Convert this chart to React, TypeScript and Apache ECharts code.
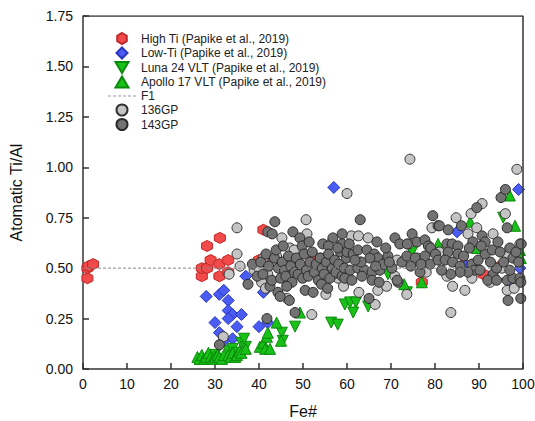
import React, { useEffect, useRef } from "react";
import * as echarts from "echarts";

const xTicks = [0, 10, 20, 30, 40, 50, 60, 70, 80, 90, 100];
const yTicks = [0, 0.25, 0.5, 0.75, 1.0, 1.25, 1.5, 1.75];

const highTi: number[][] = [
  [1, 0.45], [1, 0.5], [1.3, 0.51], [2.3, 0.52],
  [27, 0.46], [27, 0.5], [28.2, 0.5], [28.2, 0.61], [29, 0.54], [31.1, 0.65],
  [31, 0.52], [31, 0.46], [33, 0.54], [33, 0.48], [40, 0.54], [41, 0.54],
  [41, 0.69], [52, 0.56], [77, 0.43], [86.8, 0.52], [91, 0.47], [94.8, 0.51],
];

const lowTi: number[][] = [
  [28, 0.36], [31, 0.37], [32, 0.39], [33, 0.34], [33, 0.29], [34, 0.27],
  [33, 0.25], [36, 0.27], [30, 0.23], [35, 0.21], [31, 0.18], [34, 0.15],
  [32, 0.14], [37, 0.46], [40, 0.21], [41, 0.38], [42, 0.23], [46.6, 0.43],
  [57, 0.9], [85, 0.68], [87, 0.51], [98, 0.42], [99.3, 0.5], [99, 0.89],
];

const luna24: number[][] = [
  [30, 0.07], [33, 0.09], [34, 0.1], [35, 0.08], [36, 0.13], [37, 0.11],
  [36.6, 0.15], [45.2, 0.18], [45.4, 0.14], [48.2, 0.21], [56.4, 0.23],
  [57.9, 0.22], [59.5, 0.32], [60.7, 0.33], [62, 0.33], [61.4, 0.28],
  [64.8, 0.31], [69.3, 0.47], [73.6, 0.38], [74.8, 0.58], [95.5, 0.75],
];

const apollo17: number[][] = [
  [26, 0.06], [26.5, 0.05], [27, 0.07], [27.5, 0.05], [28, 0.06], [28.5, 0.08],
  [29, 0.06], [29.5, 0.05], [30, 0.06], [30.6, 0.07], [31, 0.06], [31.6, 0.05],
  [32, 0.07], [33, 0.07], [33.5, 0.06], [34, 0.08], [34.6, 0.06], [35, 0.07],
  [35.6, 0.09], [36, 0.08], [37, 0.1], [40.2, 0.11], [41, 0.13], [41.4, 0.1],
  [41.8, 0.16], [42.5, 0.1], [42, 0.18], [44, 0.23], [45, 0.14], [49.3, 0.28],
  [73, 0.42], [77, 0.43], [80.7, 0.62], [88, 0.73], [89.5, 0.6], [97, 0.86],
  [98.2, 0.71], [99.3, 0.59], [99.5, 0.55],
];

const f1Line: number[][] = [[0, 0.5], [100, 0.5]];

const gp136: number[][] = [
  [31.9, 0.16], [35, 0.7], [35, 0.57], [35.7, 0.51], [33.2, 0.47], [38.9, 0.49],
  [40.6, 0.43], [41.5, 0.4], [40, 0.5], [42, 0.47], [45.2, 0.65], [47, 0.6],
  [48, 0.59], [50.7, 0.74], [50.9, 0.67], [52, 0.27], [55.2, 0.37], [56.6, 0.63],
  [58, 0.45], [41, 0.55], [43, 0.52], [44, 0.56], [47, 0.53], [52, 0.5],
  [54, 0.55], [57, 0.47], [46.4, 0.35], [59.2, 0.41],
  [60, 0.87], [61, 0.66], [62.6, 0.66], [64.8, 0.65], [62.7, 0.38], [66.4, 0.32],
  [67, 0.39], [69, 0.41], [70.9, 0.46], [71.4, 0.54], [73.6, 0.37], [74, 0.62],
  [74.3, 1.04], [79.3, 0.7], [82.7, 0.46], [83.6, 0.28], [84, 0.41], [84.8, 0.75],
  [86.8, 0.39], [87.5, 0.67], [88.2, 0.77], [88.4, 0.45], [89.5, 0.7], [90.7, 0.82],
  [92.5, 0.43], [93.2, 0.67], [95.2, 0.5], [96, 0.77], [96.4, 0.56], [96.4, 0.39],
  [98.6, 0.99], [99.3, 0.62], [63, 0.53], [68, 0.52], [76, 0.55], [78, 0.48],
  [81, 0.58], [65, 0.48], [98, 0.4],
];

const gp143: number[][] = [
  [31, 0.12], [37.5, 0.42], [41.8, 0.25], [42.5, 0.41], [44.3, 0.38], [44.8, 0.36],
  [46.9, 0.34], [48.2, 0.28], [50.5, 0.39], [52.3, 0.38], [65, 0.35],
  [42, 0.68], [43.6, 0.73], [43, 0.67], [47.7, 0.68], [49.3, 0.65], [49.8, 0.61],
  [54.5, 0.62], [56.8, 0.65], [58.9, 0.67], [55.8, 0.61], [58.9, 0.62],
  [38.5, 0.52], [39.6, 0.46], [40.4, 0.53], [40.9, 0.47], [41.6, 0.57], [42.2, 0.51],
  [42.9, 0.44], [43.5, 0.55], [43.9, 0.59], [44.4, 0.5], [44.9, 0.45], [45.3, 0.53],
  [45.8, 0.49], [46.1, 0.46], [46.7, 0.56], [47.2, 0.51], [47.5, 0.43], [48.1, 0.48],
  [48.5, 0.55], [48.9, 0.47], [49.4, 0.52], [49.9, 0.45], [50.3, 0.57], [50.8, 0.49],
  [51.2, 0.46], [51.6, 0.53], [52.1, 0.58], [52.6, 0.48], [53.0, 0.52], [53.5, 0.44],
  [53.9, 0.55], [54.4, 0.5], [54.8, 0.47], [55.3, 0.53], [55.8, 0.57], [56.1, 0.45],
  [56.7, 0.5], [57.2, 0.54], [57.5, 0.48], [58.1, 0.52], [58.5, 0.58], [58.9, 0.46],
  [59.4, 0.5], [59.9, 0.55], [45.5, 0.61], [51.4, 0.63], [54.2, 0.42], [46.3, 0.41],
  [55.6, 0.4], [57.9, 0.6],
  [63, 0.74], [66.8, 0.63], [70.9, 0.65], [72, 0.62], [74.8, 0.67], [75.9, 0.63],
  [77.7, 0.64], [78.5, 0.61], [60, 0.58], [61.4, 0.57], [62.5, 0.59], [64.5, 0.59],
  [66.2, 0.57], [67, 0.55], [65.2, 0.55], [69.3, 0.56], [72.5, 0.53], [73.6, 0.56],
  [75.5, 0.55], [77.7, 0.56], [79, 0.6], [78.9, 0.52], [60.7, 0.49], [62.5, 0.5],
  [64, 0.49], [65.7, 0.48], [67.5, 0.49], [59.5, 0.45], [61.1, 0.44], [65.7, 0.44],
  [71.6, 0.43], [76.6, 0.48], [63.2, 0.53], [68.2, 0.52], [70.2, 0.5], [74.5, 0.51],
  [61.8, 0.54], [68.8, 0.6], [66.5, 0.51], [63.4, 0.46], [69.6, 0.53], [71.4, 0.44],
  [76.8, 0.52], [80.1, 0.57], [60.5, 0.62], [67.3, 0.43], [73.7, 0.62],
  [80.7, 0.71], [83, 0.69], [90.7, 0.66], [88.6, 0.63], [91.4, 0.63], [94.3, 0.63],
  [96.4, 0.7], [82.7, 0.62], [83.9, 0.62], [85.2, 0.61], [83, 0.58], [85.2, 0.57],
  [80.7, 0.54], [82.3, 0.54], [84, 0.53], [85.7, 0.51], [88.4, 0.52], [89.8, 0.54],
  [91.4, 0.57], [93, 0.59], [94.8, 0.58], [97.7, 0.55], [89, 0.49], [90.2, 0.49],
  [87.5, 0.48], [85.7, 0.48], [93.2, 0.47], [92, 0.44], [94, 0.44], [96.4, 0.44],
  [97.7, 0.45], [99.3, 0.45], [97, 0.49], [94, 0.5], [96.6, 0.34], [99.5, 0.35],
  [99.5, 0.43], [89.5, 0.8], [95, 0.85], [96, 0.89], [86, 0.71], [79.5, 0.76],
  [81, 0.71], [97, 0.6], [99, 0.53], [98.4, 0.58], [86.5, 0.56], [87.8, 0.6],
  [92.6, 0.53], [81.5, 0.49], [83.6, 0.47], [90.5, 0.61], [95.6, 0.53], [99.6, 0.62],
];

const FONT = "'Liberation Sans', Arial, sans-serif";
const hexagon = "path://M8.66,0L17.32,5L17.32,15L8.66,20L0,15L0,5Z";
const diamond = "path://M10,0L20,10L10,20L0,10Z";
const triUp = "path://M10,0L20,17L0,17Z";
const triDown = "path://M0,0L20,0L10,17Z";
const dashIcon = "path://M0,0h3v1h-3zM5,0h3v1h-3zM10,0h3v1h-3zM15,0h3v1h-3zM20,0h3v1h-3zM25,0h3v1h-3z";

export default function App() {
  const ref = useRef<HTMLDivElement>(null);
  useEffect(() => {
    if (!ref.current) return;
    const chart = echarts.init(ref.current, undefined, { renderer: "svg" });
    const scatter = (name: string, data: number[][], symbol: string, size: number, fill: string, border: string) => ({
      name, type: "scatter", data, symbol, symbolSize: size,
      itemStyle: { color: fill, borderColor: border, borderWidth: 1, opacity: 1 },
    });
    chart.setOption({
      animation: false,
      textStyle: { fontFamily: FONT },
      grid: { left: 83, right: 12, top: 16, bottom: 52, outerBoundsMode: "none", containLabel: false },
      legend: {
        orient: "vertical", left: 103, top: 27, itemWidth: 28, itemHeight: 11, itemGap: 1.5,
        textStyle: { fontSize: 12, color: "#222", fontFamily: FONT },
        data: [
          { name: "High Ti (Papike et al., 2019)", icon: hexagon },
          { name: "Low-Ti (Papike et al., 2019)", icon: diamond },
          { name: "Luna 24 VLT (Papike et al., 2019)", icon: triDown },
          { name: "Apollo 17 VLT (Papike et al., 2019)", icon: triUp },
          { name: "F1", icon: dashIcon, itemStyle: { color: "#999", borderWidth: 0 } },
          { name: "136GP", icon: "circle" },
          { name: "143GP", icon: "circle" },
        ],
      },
      xAxis: {
        type: "value", min: 0, max: 100, interval: 10,
        name: "Fe#", nameLocation: "middle", nameGap: 34,
        nameTextStyle: { fontSize: 16, color: "#111", fontFamily: FONT },
        axisLine: { lineStyle: { color: "#333", width: 1.5 } },
        axisTick: { inside: true, length: 6, lineStyle: { color: "#333", width: 1.5 } },
        axisLabel: { fontSize: 14, color: "#111", margin: 8, fontFamily: FONT },
        splitLine: { show: false },
      },
      yAxis: {
        type: "value", min: 0, max: 1.75, interval: 0.25,
        name: "Atomatic Ti/Al", nameLocation: "middle", nameGap: 59,
        nameTextStyle: { fontSize: 16, color: "#111", fontFamily: FONT },
        axisLine: { lineStyle: { color: "#333", width: 1.5 } },
        axisTick: { inside: true, length: 6, lineStyle: { color: "#333", width: 1.5 } },
        axisLabel: { fontSize: 14, color: "#111", margin: 10, fontFamily: FONT, formatter: (v: number) => v.toFixed(2) },
        splitLine: { show: false },
      },
      series: [
        scatter("High Ti (Papike et al., 2019)", highTi, hexagon, 11, "#f04a4a", "#c02828"),
        scatter("Low-Ti (Papike et al., 2019)", lowTi, diamond, 12, "#4a5cf2", "#2636c0"),
        scatter("Luna 24 VLT (Papike et al., 2019)", luna24, triDown, 11, "#18c018", "#0a8a0a"),
        scatter("Apollo 17 VLT (Papike et al., 2019)", apollo17, triUp, 11, "#18c018", "#0a8a0a"),
        {
          name: "F1", type: "line", data: f1Line, symbol: "none", silent: true,
          itemStyle: { color: "#999" },
          lineStyle: { color: "#888", width: 1, type: [3, 2] },
        },
        scatter("136GP", gp136, "circle", 10, "#c4c4c4", "#333"),
        scatter("143GP", gp143, "circle", 10, "#727272", "#2a2a2a"),
        {
          type: "line", data: [[0, 1.75], [100, 1.75], [100, 0]], symbol: "none", silent: true,
          lineStyle: { color: "#333", width: 1.5 },
        },
      ],
    });
    return () => chart.dispose();
  }, []);
  return <div ref={ref} style={{ position: "absolute", left: 0, top: 0, width: 535, height: 421 }} />;
}
